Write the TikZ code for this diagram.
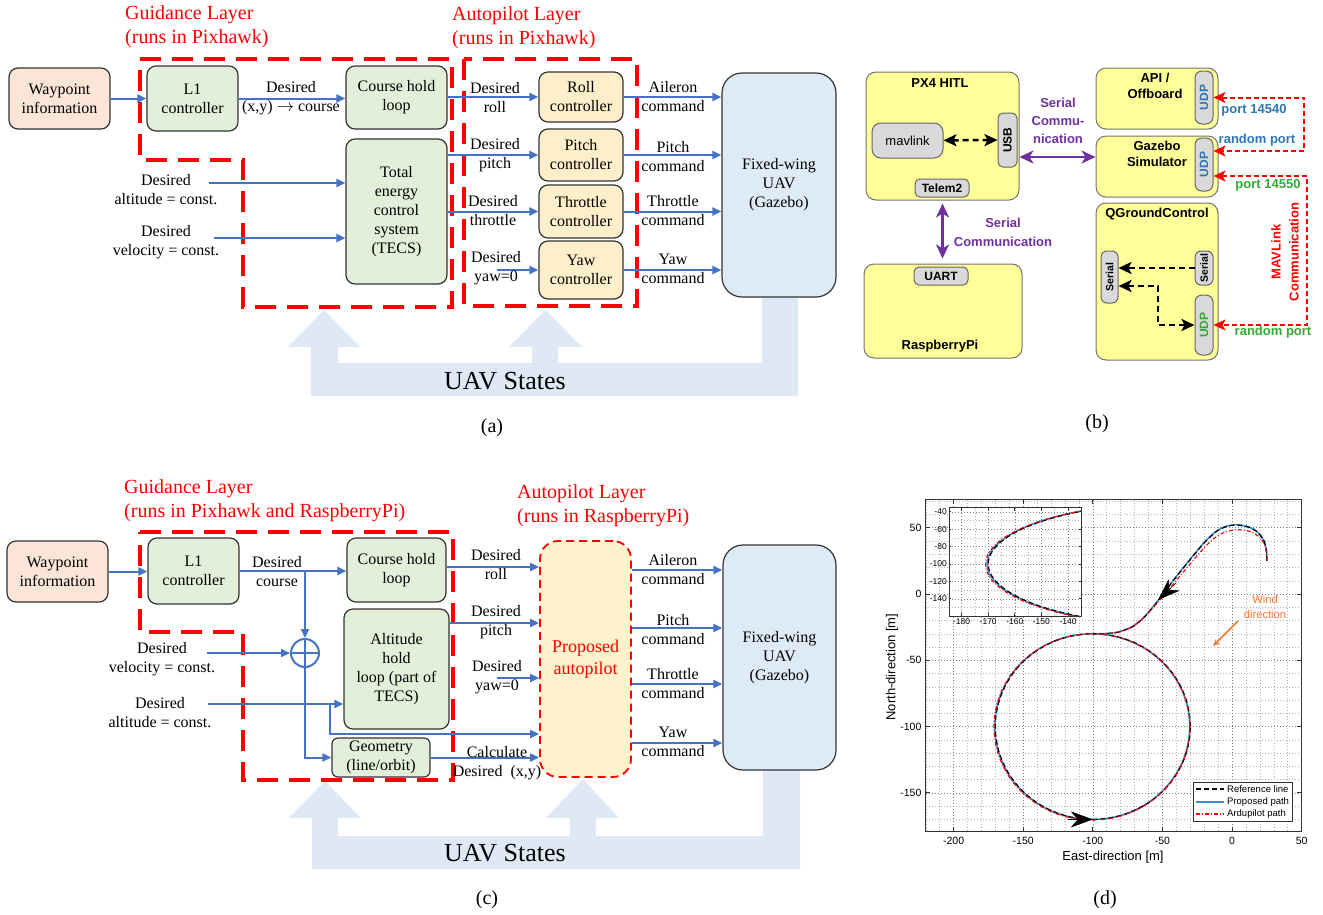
\documentclass[tikz,border=0pt]{standalone}
\usepackage{fontspec}
\usepackage{graphicx}
\setmainfont{Liberation Serif}
\newfontfamily\arialfont{Liberation Sans}
\usetikzlibrary{arrows.meta,positioning}

\definecolor{wpfill}{HTML}{FBE5D6}
\definecolor{grnfill}{HTML}{E2F0D9}
\definecolor{ctlfill}{HTML}{FDEFC9}
\definecolor{uavfill}{HTML}{DEEBF7}
\definecolor{propfill}{HTML}{FFF2CC}
\definecolor{statefill}{HTML}{DEE9F5}
\definecolor{sigblue}{HTML}{4472C4}
\definecolor{ylwfill}{HTML}{FFFF99}
\definecolor{boxgray}{HTML}{D9D9D9}
\definecolor{purp}{HTML}{7030A0}
\definecolor{udpblue}{HTML}{2E75B6}
\definecolor{udpgreen}{HTML}{34A835}
\definecolor{windorange}{HTML}{FF7733}
\definecolor{propblue}{HTML}{3D8ED2}

\tikzset{
  blk/.style={draw=black!80, line width=1.2pt, rounded corners=9pt, align=center, inner sep=0pt, font=\fontsize{16}{19}\selectfont},
  wpblk/.style={blk, fill=wpfill},
  grnblk/.style={blk, fill=grnfill},
  ctlblk/.style={blk, fill=ctlfill},
  uavblk/.style={blk, fill=uavfill, rounded corners=20pt},
  propblk/.style={blk, fill=propfill, draw=red, line width=1.8pt, dash pattern=on 8pt off 5pt, rounded corners=18pt, text=red, font=\fontsize{18}{22}\selectfont},
  sig/.style={draw=sigblue, line width=2pt, -{Triangle[length=9pt,width=8pt]}},
  sigline/.style={draw=sigblue, line width=2pt},
  lbl/.style={align=center, inner sep=0pt, font=\fontsize{16}{19}\selectfont},
  layer/.style={draw=red, line width=3.5pt, dash pattern=on 21pt off 11pt},
  layertxt/.style={anchor=west, align=left, inner sep=0pt, text=red, font=\fontsize{20}{24}\selectfont},
  states/.style={fill=statefill},
  statetxt/.style={inner sep=0pt, font=\fontsize{26}{30}\selectfont},
  subcap/.style={inner sep=0pt, font=\fontsize{20}{24}\selectfont},
  % panel (b)
  ybox/.style={draw=black!55, line width=1pt, fill=ylwfill, rounded corners=10pt},
  gbox/.style={draw=black!60, line width=1pt, fill=boxgray, rounded corners=5pt, inner sep=0pt, font=\arialfont\bfseries\fontsize{12}{14}\selectfont},
  btxt/.style={inner sep=0pt, align=center, font=\arialfont\bfseries\fontsize{13}{16}\selectfont},
  purparr/.style={draw=purp, line width=2.5pt, {Stealth[length=14pt,width=13pt,inset=4pt]}-{Stealth[length=14pt,width=13pt,inset=4pt]}},
  blkdash/.style={draw=black, line width=2.5pt, dash pattern=on 6pt off 4pt},
  bdarr/.style={blkdash, {Stealth[length=13pt,width=12pt,inset=3pt]}-{Stealth[length=13pt,width=12pt,inset=3pt]}},
  bsarr/.style={blkdash, -{Stealth[length=13pt,width=12pt,inset=3pt]}},
  redarr/.style={draw=red, line width=2pt, dash pattern=on 5pt off 3pt, {Stealth[length=12pt,width=11pt,inset=3pt]}-{Stealth[length=12pt,width=11pt,inset=3pt]}},
  % panel (d)
  gridmin/.style={draw=black!30, line width=0.5pt, dash pattern=on 1pt off 2pt},
  gridmaj/.style={draw=black!50, line width=0.6pt, dash pattern=on 1pt off 2pt},
  axisln/.style={draw=black!80, line width=1pt},
  ticktxt/.style={inner sep=0pt, font=\arialfont\fontsize{10.5}{12}\selectfont},
  insettick/.style={inner sep=0pt, font=\arialfont\fontsize{8.5}{10}\selectfont},
  refln/.style={draw=black, line width=1.2pt, dash pattern=on 5pt off 3pt},
  propln/.style={draw=propblue, line width=1.6pt},
  arduln/.style={draw=red, line width=1.1pt, dash pattern=on 4pt off 2pt on 1pt off 2pt},
  bigblk/.style={draw=black, line width=0.5pt, -{Stealth[length=22pt,width=16pt,inset=7pt]}},
}

\begin{document}
\begin{tikzpicture}[x=1pt, y=-1pt]
\useasboundingbox (0,0) rectangle (1323,914);

%%%%% (a)
\fill[states] (311,396) -- (311,347) -- (288,347) -- (324,310) -- (360,347) -- (338,347) -- (338,363)
  -- (532,363) -- (532,347) -- (509,347) -- (545.5,310) -- (582,347) -- (558,347) -- (558,363)
  -- (762,363) -- (762,297) -- (798,297) -- (798,396) -- cycle;
\node[statetxt] (st_a) at (505,381) {UAV States};

\draw[layer] (140,59) -- (452,59) -- (452,307) -- (243,307) -- (243,160) -- (140,160) -- cycle;
\draw[layer] (464,59) rectangle (637,306);
\node[layertxt] (gl_a) at (125,26.5) {Guidance Layer\\(runs in Pixhawk)};
\node[layertxt] (al_a) at (452,27.5) {Autopilot Layer\\(runs in Pixhawk)};

\node[wpblk, minimum width=101pt, minimum height=61pt] (wp_a) at (59.5,98.5) {Waypoint\\information};
\node[grnblk, minimum width=91pt, minimum height=65pt] (l1_a) at (192.5,98.5) {L1\\controller};
\node[grnblk, minimum width=101pt, minimum height=63pt] (course_a) at (396.5,97.5) {Course hold\\loop};
\node[grnblk, minimum width=101pt, minimum height=145pt] (tecs_a) at (396.5,211.5) {Total\\energy\\control\\system\\(TECS)};
\node[ctlblk, minimum width=84pt, minimum height=50pt] (roll_a) at (581,97) {Roll\\controller};
\node[ctlblk, minimum width=84pt, minimum height=52pt] (pitch_a) at (581,155) {Pitch\\controller};
\node[ctlblk, minimum width=84pt, minimum height=53pt] (thr_a) at (581,211.5) {Throttle\\controller};
\node[ctlblk, minimum width=84pt, minimum height=58pt] (yaw_a) at (581,270) {Yaw\\controller};
\node[uavblk, minimum width=114pt, minimum height=224pt] (uav_a) at (779,185) {Fixed-wing\\UAV\\(Gazebo)};

\coordinate (altin_a) at (209,183);
\coordinate (velin_a) at (214,238);
\coordinate (yawin_a) at (497,270);

\draw[sig] (wp_a) -- (l1_a);
\draw[sig] (l1_a.east) -- (l1_a.east -| course_a.west);
\draw[sig] (course_a.east |- roll_a) -- (roll_a.west);
\draw[sig] (tecs_a.east |- pitch_a) -- (pitch_a.west);
\draw[sig] (tecs_a.east |- thr_a) -- (thr_a.west);
\draw[sig] (yawin_a) -- (yaw_a.west);
\draw[sig] (altin_a) -- (altin_a -| tecs_a.west);
\draw[sig] (velin_a) -- (velin_a -| tecs_a.west);
\draw[sig] (roll_a.east) -- (roll_a.east -| uav_a.west);
\draw[sig] (pitch_a.east) -- (pitch_a.east -| uav_a.west);
\draw[sig] (thr_a.east) -- (thr_a.east -| uav_a.west);
\draw[sig] (yaw_a.east) -- (yaw_a.east -| uav_a.west);

\node[lbl] (dxy_a) at (291,98.5) {Desired\\(x,y) $\rightarrow$ course};
\node[lbl] (dalt_a) at (166,189.5) {Desired\\altitude = const.};
\node[lbl] (dvel_a) at (166,242) {Desired\\velocity = const.};
\node[lbl] (droll_a) at (495,97.5) {Desired\\roll};
\node[lbl] (dpitch_a) at (495,155.5) {Desired\\pitch};
\node[lbl] (dthr_a) at (493,210.5) {Desired\\throttle};
\node[lbl] (dyaw_a) at (496,268.5) {Desired\\yaw=0};
\node[lbl] (cail_a) at (673,96.5) {Aileron\\command};
\node[lbl] (cpitch_a) at (673,156.5) {Pitch\\command};
\node[lbl] (cthr_a) at (673,211) {Throttle\\command};
\node[lbl] (cyaw_a) at (673,268.5) {Yaw\\command};

\node[subcap] (cap_a) at (492,428) {(a)};

%%%%% (c)
\fill[states] (312,869) -- (312,818) -- (289,818) -- (325,781) -- (361,818) -- (338,818) -- (338,836)
  -- (570,836) -- (570,818) -- (546,818) -- (583,779) -- (619,818) -- (596,818) -- (596,836)
  -- (763,836) -- (763,770) -- (800,770) -- (800,869) -- cycle;
\node[statetxt] (st_c) at (505,853) {UAV States};

\draw[layer] (140,532) -- (453,532) -- (453,780) -- (243,780) -- (243,632) -- (140,632) -- cycle;
\node[layertxt] (gl_c) at (124,500.5) {Guidance Layer\\(runs in Pixhawk and RaspberryPi)};
\node[layertxt] (al_c) at (517,506) {Autopilot Layer\\(runs in RaspberryPi)};

\node[wpblk, minimum width=101pt, minimum height=61pt] (wp_c) at (57.5,571.5) {Waypoint\\information};
\node[grnblk, minimum width=91pt, minimum height=66pt] (l1_c) at (193.5,571) {L1\\controller};
\node[grnblk, minimum width=99pt, minimum height=64pt] (course_c) at (396.5,570) {Course hold\\loop};
\node[grnblk, minimum width=105pt, minimum height=120pt] (alt_c) at (396.5,669) {Altitude\\hold\\loop (part of\\TECS)};
\node[grnblk, rounded corners=6pt, minimum width=98pt, minimum height=39pt] (geo_c) at (381,757.5) {Geometry\\(line/orbit)};
\node[draw=sigblue, line width=2pt, circle, minimum size=28pt, inner sep=0pt] (sum_c) at (305,653) {};
\draw[sigline] (sum_c.north) -- (sum_c.south) (sum_c.west) -- (sum_c.east);
\node[propblk, minimum width=91pt, minimum height=236pt] (prop_c) at (585.5,659) {Proposed\\autopilot};
\node[uavblk, minimum width=113pt, minimum height=225pt] (uav_c) at (779.5,657.5) {Fixed-wing\\UAV\\(Gazebo)};

\coordinate (jn_c) at (l1_c.east -| sum_c);
\coordinate (velin_c) at (207,653);
\coordinate (altin_c) at (208,704);
\coordinate (br_c) at (330,704);
\coordinate (tecsap_c) at (prop_c.west |- 0,734);
\coordinate (yawin_c) at (497,678);

\draw[sig] (wp_c.east) -- (wp_c.east -| l1_c.west);
\draw[sig] (l1_c.east) -- (l1_c.east -| course_c.west);
\draw[sig] (jn_c) -- (sum_c.north);
\draw[sig] (velin_c) -- (sum_c.west);
\draw[sig] (altin_c) -- (altin_c -| alt_c.west);
\draw[sig] (br_c) |- (tecsap_c);
\draw[sig] (sum_c.south) |- (geo_c.west);
\draw[sig] (geo_c.east) -- (geo_c.east -| prop_c.west);
\draw[sig] (course_c.east |- 0,567) -- (prop_c.west |- 0,567);
\draw[sig] (alt_c.east |- 0,623) -- (prop_c.west |- 0,623);
\draw[sig] (yawin_c) -- (yawin_c -| prop_c.west);
\draw[sig] (prop_c.east |- 0,570) -- (uav_c.west |- 0,570);
\draw[sig] (prop_c.east |- 0,628) -- (uav_c.west |- 0,628);
\draw[sig] (prop_c.east |- 0,684) -- (uav_c.west |- 0,684);
\draw[sig] (prop_c.east |- 0,743) -- (uav_c.west |- 0,743);

\node[lbl] (dcourse_c) at (277,571.5) {Desired\\course};
\node[lbl] (dvel_c) at (162,659.5) {Desired\\velocity = const.};
\node[lbl] (dalt_c) at (160,712.5) {Desired\\altitude = const.};
\node[lbl] (droll_c) at (496,564.5) {Desired\\roll};
\node[lbl] (dpitch_c) at (496,622.5) {Desired\\pitch};
\node[lbl] (dyaw_c) at (497,677.5) {Desired\\yaw=0};
\node[lbl] (dxy_c) at (497,763) {Calculate\\Desired\ \ (x,y)};
\node[lbl] (cail_c) at (673,569.5) {Aileron\\command};
\node[lbl] (cpitch_c) at (673,629.5) {Pitch\\command};
\node[lbl] (cthr_c) at (673,683.5) {Throttle\\command};
\node[lbl] (cyaw_c) at (673,741.5) {Yaw\\command};

\node[subcap] (cap_c) at (487,900) {(c)};

%%%%% (b)
\node[ybox, minimum width=153pt, minimum height=128pt] (px4_b) at (942.5,136) {};
\node[btxt] (px4t_b) at (940,83) {PX4 HITL};
\node[gbox, font=\arialfont\fontsize{13}{15}\selectfont, rounded corners=9pt, minimum width=71pt, minimum height=35pt] (mav_b) at (907.5,140.5) {mavlink};
\node[gbox, minimum width=19pt, minimum height=54pt] (usb_b) at (1007.5,140) {\rotatebox{90}{USB}};
\node[gbox, minimum width=54pt, minimum height=18pt] (tel_b) at (942,188) {Telem2};

\node[ybox, minimum width=158pt, minimum height=94pt] (rpi_b) at (943,311) {};
\node[gbox, minimum width=54pt, minimum height=18pt] (uart_b) at (941,276) {UART};
\node[btxt] (rpit_b) at (940,346) {RaspberryPi};

\node[ybox, minimum width=122pt, minimum height=61pt] (api_b) at (1157,98.5) {};
\node[btxt] (apit_b) at (1155,85.5) {API /\\Offboard};
\node[gbox, text=udpblue, rounded corners=7pt, minimum width=18pt, minimum height=53pt] (udp1_b) at (1204,97.5) {\rotatebox{90}{UDP}};

\node[ybox, minimum width=122pt, minimum height=61pt] (gaz_b) at (1157,166.5) {};
\node[btxt] (gazt_b) at (1157,153.5) {Gazebo\\Simulator};
\node[gbox, text=udpblue, rounded corners=7pt, minimum width=18pt, minimum height=53pt] (udp2_b) at (1204,164.5) {\rotatebox{90}{UDP}};

\node[ybox, minimum width=122pt, minimum height=157pt] (qgc_b) at (1157,281.5) {};
\node[btxt] (qgct_b) at (1157,214) {QGroundControl};
\node[gbox, font=\arialfont\bfseries\fontsize{10.5}{12}\selectfont, rounded corners=6pt, minimum width=17pt, minimum height=52pt] (ser1_b) at (1109.5,277) {\rotatebox{90}{Serial}};
\node[gbox, font=\arialfont\bfseries\fontsize{10.5}{12}\selectfont, rounded corners=6pt, minimum width=18pt, minimum height=34pt] (ser2_b) at (1204,268) {\rotatebox{90}{Serial}};
\node[gbox, text=udpgreen, rounded corners=7pt, minimum width=18pt, minimum height=60pt] (udp3_b) at (1204,325) {\rotatebox{90}{UDP}};

\draw[bdarr] (mav_b) -- (usb_b);
\coordinate (pa_b) at ([yshift=-21pt]px4_b.east);
\draw[purparr] (pa_b) -- (pa_b -| gaz_b.west);
\draw[purparr, shorten <=3pt, shorten >=5pt] (px4_b.south) -- (px4_b.south |- rpi_b.north);
\node[btxt, text=purp, font=\arialfont\bfseries\fontsize{13}{18}\selectfont] (sc1_b) at (1058,121) {Serial\\Commu-\\nication};
\node[btxt, text=purp, font=\arialfont\bfseries\fontsize{13}{19}\selectfont] (sc2_b) at (1003,232.5) {Serial\\Communication};

\draw[bsarr] (ser2_b.west) -- (ser2_b.west -| ser1_b.east);
\coordinate (qa_b) at (ser1_b.east |- 0,286);
\coordinate (qb_b) at (1158,286);
\draw[bdarr] (qa_b) -- (qb_b) |- (udp3_b.west);

\coordinate (r1_b) at (1304,120);
\coordinate (g1_b) at (udp2_b.east |- 0,151);
\draw[redarr] (udp1_b.east) -| (r1_b) |- (g1_b);
\coordinate (g2_b) at (udp2_b.east |- 0,176);
\coordinate (r2_b) at (1307,250);
\draw[redarr] (g2_b) -| (r2_b) |- (udp3_b.east);

\node[btxt, text=udpblue] (p1_b) at (1254,110) {port 14540};
\node[btxt, text=udpblue] (rp1_b) at (1257,140) {random port};
\node[btxt, text=udpgreen] (p2_b) at (1268,185) {port 14550};
\node[btxt, text=udpgreen] (rp2_b) at (1273,332) {random port};
\node[btxt, text=red, rotate=90, font=\arialfont\bfseries\fontsize{13}{18}\selectfont] (mavc_b) at (1285,252) {MAVLink\\Communication};

\node[subcap] (cap_b) at (1097,424) {(b)};

%%%%% (d)
\begin{scope}[shift={(1232,594)}, x=1.392pt, y=1.326pt]
  \draw[gridmin] (-220,-179) grid[step=10] (50,71);
  \draw[gridmaj] (-220,-179) grid[step=50] (50,71);
  \draw[propln] (-100.4,-100) ellipse[x radius=70, y radius=70];
  \draw[refln] (-100,-100) ellipse[x radius=70, y radius=70];
  \draw[arduln] (-100.6,-100.3) ellipse[x radius=70.4, y radius=70.2];
  \draw[propln] plot[smooth] coordinates {(25,25) (24.8,32) (23,40) (18.5,46.5) (12,50.5) (3,52.3) (-5,50.8) (-12,46.8) (-20,38.8) (-30,26.3) (-40,13.3) (-48,2.3) (-56,-8.7) (-64,-18.2) (-72,-24.8) (-82,-28.7) (-91,-29.9) (-100.4,-30)};
  \draw[refln] plot[smooth] coordinates {(25,25) (24.8,32) (23,40) (18.5,46.5) (12,50.5) (3,52) (-5,50.5) (-12,46.5) (-20,38.5) (-30,26) (-40,13) (-48,2) (-56,-9) (-64,-18.5) (-72,-25) (-82,-28.8) (-91,-29.9) (-100,-30)};
  \draw[arduln] plot[smooth] coordinates {(25,25) (24.8,31) (23,38) (18.5,44) (12,47.5) (4,48.5) (-4,47) (-11,43.5) (-19,36) (-29,24) (-39,11.5) (-48,0) (-57,-10.5) (-65,-19.5) (-73,-25.5) (-82,-28.8) (-91,-30) (-100,-30.3)};
  \draw[bigblk] (-40,8.5) -- (-53,-4.5);
  \draw[bigblk] (-118,-170) -- (-100,-170);
  \draw[axisln] (-220,-179) rectangle (50,71);
  \foreach \u in {-200,-150,...,50} {
    \draw[axisln] (\u,-179) -- ++(0,3) (\u,71) -- ++(0,-3);
    \node[ticktxt, anchor=north] (xt\u) at (\u,-183) {\u};
  }
  \foreach \v in {-150,-100,...,50} {
    \draw[axisln] (-220,\v) -- ++(3,0) (50,\v) -- ++(-3,0);
    \node[ticktxt, anchor=east] (yt\v) at (-223,\v) {\v};
  }
\end{scope}

% inset
\begin{scope}[shift={(1440.4,477)}, x=2.66pt, y=0.87pt]
  \fill[white] (-184.7,-159.8) rectangle (-135.1,-35.6);
  \draw[gridmin] (-184.7,-159.8) grid[xstep=5,ystep=10] (-135.1,-35.6);
  \draw[gridmaj] (-184.7,-159.8) grid[xstep=10,ystep=20] (-135.1,-35.6);
  \begin{scope}
    \clip (-184.7,-159.8) rectangle (-135.1,-35.6);
    \draw[propln] (-100.4,-100) ellipse[x radius=70, y radius=70];
    \draw[refln] (-100,-100) ellipse[x radius=70, y radius=70];
    \draw[arduln] (-100.6,-100.3) ellipse[x radius=70.4, y radius=70.2];
  \end{scope}
  \draw[axisln] (-184.7,-159.8) rectangle (-135.1,-35.6);
  \foreach \u in {-180,-170,...,-140} {
    \draw[axisln] (\u,-159.8) -- ++(0,4) (\u,-35.6) -- ++(0,-4);
    \node[insettick, anchor=north] (it\u) at (\u,-163) {\u};
  }
  \foreach \v in {-140,-120,...,-40} {
    \draw[axisln] (-184.7,\v) -- ++(0.8,0) (-135.1,\v) -- ++(-0.8,0);
    \node[insettick, anchor=east] (iy\v) at (-185.5,\v) {\v};
  }
\end{scope}

% legend
\node[draw=black!80, fill=white, line width=0.8pt, minimum width=99pt, minimum height=39pt, inner sep=0pt] (leg_d) at (1242.5,801.5) {};
\draw[refln] (1196,789) -- (1224,789);
\draw[propln] (1196,802) -- (1224,802);
\draw[arduln] (1196,814) -- (1224,814);
\node[anchor=west, inner sep=0pt, font=\arialfont\fontsize{9.5}{11}\selectfont] (lg1_d) at (1227,789) {Reference line};
\node[anchor=west, inner sep=0pt, font=\arialfont\fontsize{9.5}{11}\selectfont] (lg2_d) at (1227,802) {Proposed path};
\node[anchor=west, inner sep=0pt, font=\arialfont\fontsize{9.5}{11}\selectfont] (lg3_d) at (1227,814) {Ardupilot path};

\node[align=center, inner sep=0pt, text=windorange, font=\arialfont\fontsize{11.2}{15}\selectfont] (wind_d) at (1265,606.5) {Wind\\direction};
\draw[draw=windorange, line width=1.6pt, -{Stealth[length=7pt,width=6pt]}] (1238,621) -- (1213,646);

\node[rotate=90, inner sep=0pt, font=\arialfont\fontsize{13}{15}\selectfont] (ylab_d) at (892,667) {North-direction [m]};
\node[inner sep=0pt, font=\arialfont\fontsize{13}{15}\selectfont] (xlab_d) at (1113,857) {East-direction [m]};

\node[subcap] (cap_d) at (1105,900) {(d)};
\end{tikzpicture}
\end{document}
